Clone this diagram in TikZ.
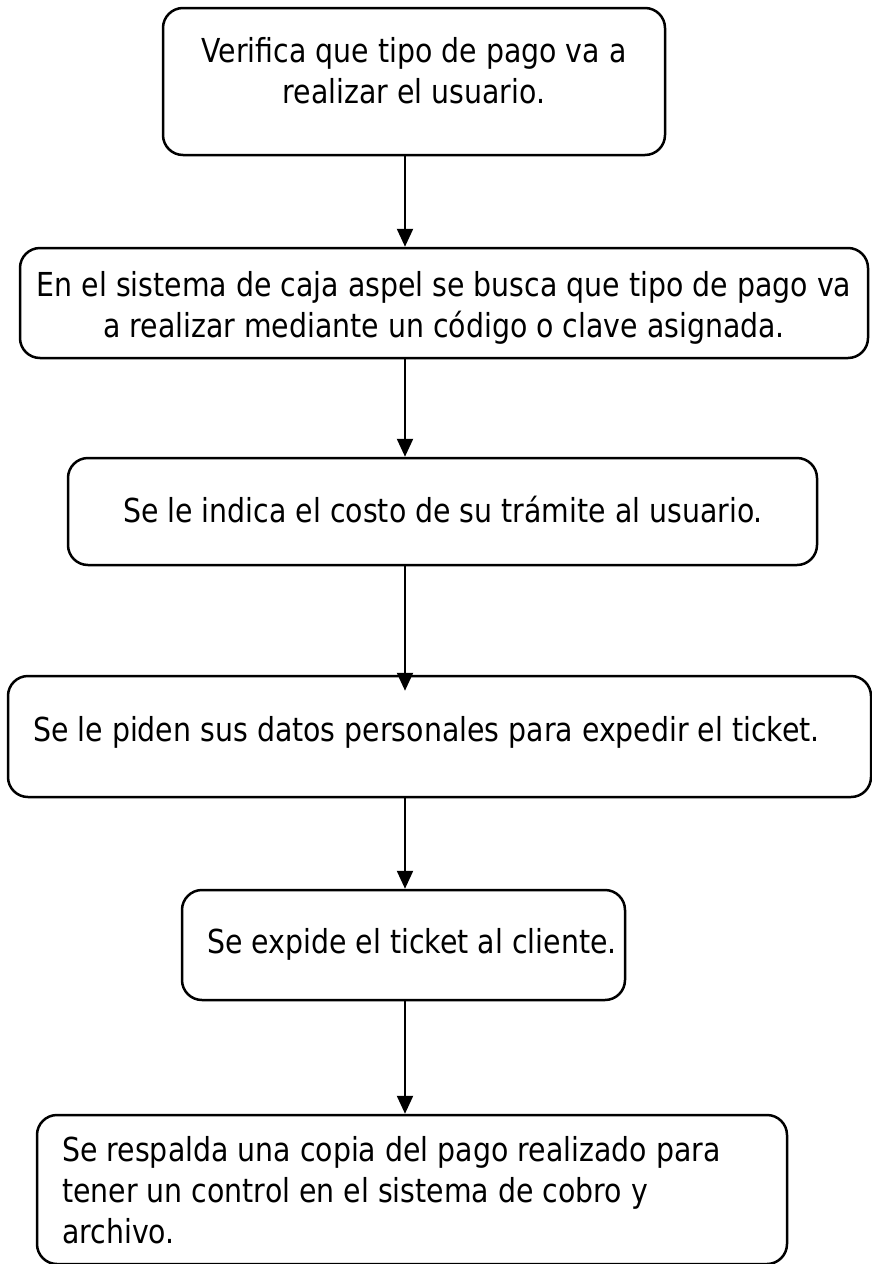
\documentclass[tikz,border=0pt]{standalone}
\usepackage{fontspec}
\setmainfont{DejaVu Sans}[FakeStretch=0.86]
\usetikzlibrary{arrows.meta}
\begin{document}
\begin{tikzpicture}[x=1pt,y=-1pt,
  box/.style={draw=black,line width=2.5pt,rounded corners=20pt,inner sep=0pt},
  txt/.style={inner sep=0pt,font=\fontsize{33}{41}\selectfont},
  arr/.style={line width=2.3pt,-{Triangle[width=16pt,length=18pt]}}]
\useasboundingbox (0,0) rectangle (872,1264);
\clip (0,0) rectangle (872,1264);
\fill[white] (0,0) rectangle (872,1264);
\coordinate (ax) at (405,0);
% boxes
\node[box,minimum width=502pt,minimum height=147pt] (b1) at (414,81.5) {};
\node[box,minimum width=848pt,minimum height=110pt] (b2) at (444,303) {};
\node[box,minimum width=749pt,minimum height=107pt] (b3) at (442.5,511.5) {};
\node[box,minimum width=863pt,minimum height=121pt] (b4) at (439.5,736.5) {};
\node[box,minimum width=443pt,minimum height=110pt] (b5) at (403.5,945) {};
\node[box,minimum width=750pt,minimum height=149pt] (b6) at (412,1189.5) {};
% texts
\node[txt,align=center,anchor=base] (t1) at (414,103) {Verifica que tipo de pago va a\\realizar el usuario.};
\node[txt,align=center,anchor=base] (t2) at (444,337) {En el sistema de caja aspel se busca que tipo de pago va\\a realizar mediante un código o clave asignada.};
\node[txt,anchor=base] (t3) at (443,522) {Se le indica el costo de su trámite al usuario.};
\node[txt,anchor=base west] (t4) at (33,741) {Se le piden sus datos personales para expedir el ticket.};
\node[txt,anchor=base west] (t5) at (207,953) {Se expide el ticket al cliente.};
\node[txt,align=left,anchor=base west] (t6) at (62,1243) {Se respalda una copia del pago realizado para\\tener un control en el sistema de cobro y\\archivo.};
% arrows
\draw[arr] (b1.south -| ax) -- (b2.north -| ax);
\draw[arr] (b2.south -| ax) -- (b3.north -| ax);
\draw[arr] (b3.south -| ax) -- ([yshift=-16pt]b4.north -| ax);
\draw[arr] (b4.south -| ax) -- (b5.north -| ax);
\draw[arr] (b5.south -| ax) -- (b6.north -| ax);
\end{tikzpicture}
\end{document}
